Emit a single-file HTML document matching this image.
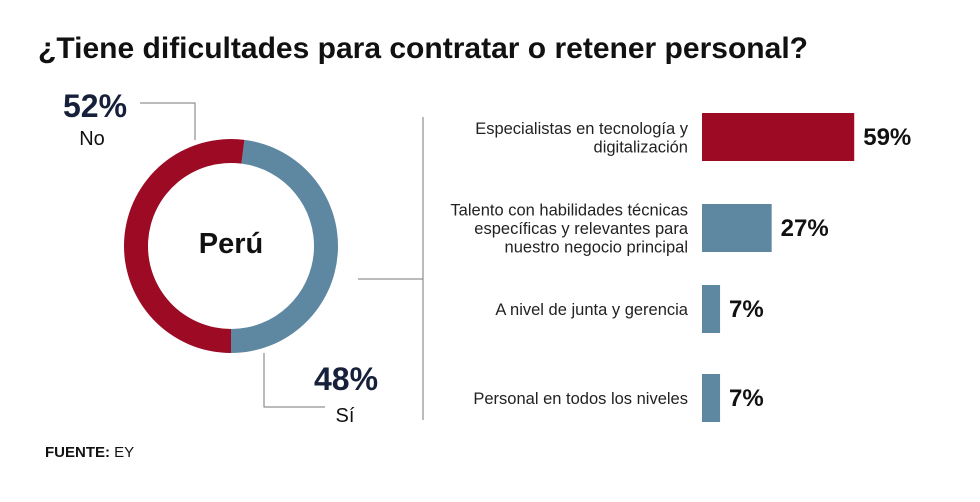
<!DOCTYPE html>
<html><head><meta charset="utf-8"><style>
body{margin:0;background:#fff;width:980px;height:497px;overflow:hidden;font-family:"Liberation Sans",sans-serif}
</style></head><body>
<svg width="980" height="497" viewBox="0 0 980 497">
<text x="38" y="58" font-size="30" font-weight="bold" fill="#111" textLength="770" lengthAdjust="spacingAndGlyphs">¿Tiene dificultades para contratar o retener personal?</text>
<g id="donut"></g>
<text x="231" y="253" text-anchor="middle" font-size="29" font-weight="bold" fill="#111">Perú</text>
<polyline points="140,103 195,103 195,140" fill="none" stroke="#777" stroke-width="1"/>
<polyline points="264,353 264,407 325,407" fill="none" stroke="#777" stroke-width="1"/>
<text x="95" y="117" text-anchor="middle" font-size="32" font-weight="bold" fill="#16203a">52%</text>
<text x="92" y="145" text-anchor="middle" font-size="20" fill="#111">No</text>
<text x="346" y="390" text-anchor="middle" font-size="32" font-weight="bold" fill="#16203a">48%</text>
<text x="345" y="422" text-anchor="middle" font-size="20" fill="#111">Sí</text>
<line x1="423" y1="117" x2="423" y2="420" stroke="#777"/>
<line x1="358" y1="279" x2="423" y2="279" stroke="#777"/>
<g id="bars"></g>
<text x="45" y="457" font-size="15" fill="#111"><tspan font-weight="bold">FUENTE:</tspan> EY</text>
</svg>
<script>
const donutLabels=["Sí","No"];
const donutValues=[48,52];
const donutColors=["#5e88a2","#9c0a23"];
const barLabels=[["Especialistas en tecnología y","digitalización"],["Talento con habilidades técnicas","específicas y relevantes para","nuestro negocio principal"],["A nivel de junta y gerencia"],["Personal en todos los niveles"]];
const barValues=[59,27,7,7];
const barColors=["#9c0a23","#5e88a2","#5e88a2","#5e88a2"];
const NS="http://www.w3.org/2000/svg";
const cx=231,cy=246,R=107,r=83;
const total=donutValues.reduce((a,b)=>a+b,0);
let start=180-donutValues[0]/total*360;
const pt=(ang,rad)=>[cx+rad*Math.sin(ang*Math.PI/180),cy-rad*Math.cos(ang*Math.PI/180)];
let ang=start;
const dg=document.getElementById('donut');
donutValues.forEach((v,i)=>{
  const sweep=v/total*360,e=ang+sweep,large=sweep>180?1:0;
  const [x1,y1]=pt(ang,R),[x2,y2]=pt(e,R),[x3,y3]=pt(e,r),[x4,y4]=pt(ang,r);
  const p=document.createElementNS(NS,'path');
  p.setAttribute('d',`M${x1},${y1}A${R},${R} 0 ${large} 1 ${x2},${y2}L${x3},${y3}A${r},${r} 0 ${large} 0 ${x4},${y4}Z`);
  p.setAttribute('fill',donutColors[i]);
  
  
  dg.appendChild(p);ang=e;
});
const bg=document.getElementById('bars');
const x0=702,scale=2.58,barTops=[113,204,285,374],bh=48;
barValues.forEach((v,i)=>{
  const y=barTops[i],w=v*scale;
  const rc=document.createElementNS(NS,'rect');
  rc.setAttribute('x',x0);rc.setAttribute('y',y);rc.setAttribute('width',w);rc.setAttribute('height',bh);rc.setAttribute('fill',barColors[i]);
  
  
  bg.appendChild(rc);
  const t=document.createElementNS(NS,'text');
  t.setAttribute('x',x0+w+9);t.setAttribute('y',y+bh/2+8);t.setAttribute('font-size','24');t.setAttribute('font-weight','bold');t.setAttribute('fill','#111');
  t.textContent=v+'%';
  
  
  bg.appendChild(t);
  const lines=barLabels[i],lh=18.5,n=lines.length;
  lines.forEach((ln,j)=>{
    const tt=document.createElementNS(NS,'text');
    tt.setAttribute('x',688);tt.setAttribute('y',y+bh/2+6+(j-(n-1)/2)*lh);tt.setAttribute('text-anchor','end');tt.setAttribute('font-size','16.5');tt.setAttribute('fill','#222');
    tt.textContent=ln;
    
    
    bg.appendChild(tt);
  });
});
</script>
</body></html>
